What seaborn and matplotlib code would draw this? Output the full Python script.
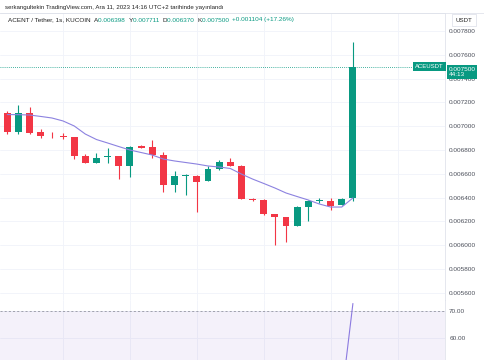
import numpy as np
import pandas as pd
import matplotlib
matplotlib.use('Agg')
import matplotlib.pyplot as plt
import matplotlib.transforms as mtransforms
import seaborn as sns

# OHLC (1s candles, ACE/USDT)
opens = [0.007113, 0.006949, 0.007108, 0.006949, 0.006926, 0.006917, 0.006912, 0.006750,
         0.006693, 0.006739, 0.006747, 0.006663, 0.006834, 0.006823, 0.006761, 0.006506,
         0.006585, 0.006582, 0.006540, 0.006638, 0.006702, 0.006666, 0.006386, 0.006380,
         0.006262, 0.006240, 0.006164, 0.006324, 0.006372, 0.006369, 0.006338, 0.006398]
highs = [0.007130, 0.007178, 0.007159, 0.006976, 0.006949, 0.006940, 0.006912, 0.006764,
         0.006777, 0.006814, 0.006750, 0.006836, 0.006842, 0.006884, 0.006783, 0.006624,
         0.006596, 0.006587, 0.006666, 0.006713, 0.006730, 0.006676, 0.006394, 0.006386,
         0.006262, 0.006240, 0.006330, 0.006380, 0.006394, 0.006394, 0.006394, 0.007711]
lows = [0.006932, 0.006932, 0.006934, 0.006898, 0.006898, 0.006892, 0.006722, 0.006690,
        0.006690, 0.006693, 0.006559, 0.006571, 0.006819, 0.006730, 0.006450, 0.006450,
        0.006422, 0.006282, 0.006540, 0.006630, 0.006663, 0.006386, 0.006374, 0.006255,
        0.005999, 0.006027, 0.006164, 0.006206, 0.006352, 0.006296, 0.006338, 0.006370]
closes = [0.006949, 0.007113, 0.006945, 0.006920, 0.006922, 0.006913, 0.006752, 0.006693,
          0.006735, 0.006742, 0.006663, 0.006828, 0.006819, 0.006758, 0.006506, 0.006579,
          0.006589, 0.006534, 0.006638, 0.006697, 0.006663, 0.006386, 0.006384, 0.006262,
          0.006240, 0.006161, 0.006321, 0.006374, 0.006376, 0.006332, 0.006386, 0.007500]
ma = [0.007098, 0.007097, 0.007094, 0.007082, 0.007069, 0.007044, 0.007002, 0.006934,
      0.006888, 0.006859, 0.006829, 0.006800, 0.006779, 0.006758, 0.006724, 0.006708,
      0.006695, 0.006682, 0.006666, 0.006657, 0.006645, 0.006598, 0.006556, 0.006519,
      0.006481, 0.006439, 0.006409, 0.006380, 0.006346, 0.006321, 0.006321, 0.006397]
rsi = [45.0, 48.0, 44.0, 42.0, 42.5, 42.0, 34.0, 31.0, 34.5, 35.0, 31.0, 42.0,
       41.5, 38.0, 29.0, 33.5, 34.0, 32.0, 38.0, 41.0, 38.5, 30.0, 30.0, 27.0,
       26.5, 25.0, 33.0, 36.0, 36.0, 34.5, 38.5, 72.8]
price_ticks = [0.0056, 0.0058, 0.0060, 0.0062, 0.0064, 0.0066, 0.0068,
               0.0070, 0.0072, 0.0074, 0.0076, 0.0078]
rsi_ticks = [60, 70]

df = pd.DataFrame({'i': np.arange(len(opens)), 'open': opens, 'high': highs,
                   'low': lows, 'close': closes, 'ma': ma, 'rsi': rsi})

GREEN = '#089981'
RED = '#F23645'
GRID = '#f0f3fa'
EDGE = '#e0e3eb'
TXT = '#4a4e59'

sns.set_style('white')
plt.rcParams['font.family'] = ['Liberation Sans', 'DejaVu Sans']

W, H = 485, 360
fig = plt.figure(figsize=(W / 100, H / 100), dpi=100)

ax = fig.add_axes([0, 60 / H, 445 / W, 287 / H])
ax2 = fig.add_axes([0, 0, 445 / W, 60 / H])

# candles
df['up'] = df['close'] >= df['open']
cols = np.where(df['up'], GREEN, RED)
ax.vlines(df['i'], df['low'], df['high'], colors=cols, lw=0.8, zorder=3)
body = (df['close'] - df['open']).abs().clip(lower=0.000008)
ax.bar(df['i'], body, bottom=df[['open', 'close']].min(axis=1), width=0.62,
       color=cols, zorder=4, linewidth=0)
sns.lineplot(data=df, x='i', y='ma', ax=ax, color='#8c82e0', lw=0.8, zorder=5)

ax.set_xlim(-0.655, 39.26)
ax.set_ylim(0.005540, 0.007951)
ax.set_xticks([5, 11, 17, 23, 29, 35])
ax.set_xticklabels([])
ax.set_yticks(price_ticks)
ax.set_yticklabels(['%.6f' % t for t in price_ticks])
ax.yaxis.tick_right()
ax.tick_params(axis='both', length=0, labelsize=4.6, labelcolor=TXT, pad=3)
ax.grid(True, color=GRID, lw=0.6)
ax.set_xlabel('')
ax.set_ylabel('')
ax.spines['left'].set_visible(False)
for s in ['top', 'right', 'bottom']:
    ax.spines[s].set_color(EDGE)
    ax.spines[s].set_linewidth(0.6)

# last price line and labels
last = closes[-1]
ax.axhline(last, color=GREEN, lw=0.6, ls=(0, (1, 1.5)), zorder=2)
tr = mtransforms.blended_transform_factory(ax.transAxes, ax.transData)
ax.text(0.997, last, 'ACEUSDT', transform=tr, ha='right', va='center', fontsize=4.3,
        color='white', bbox=dict(boxstyle='square,pad=0.35', fc=GREEN, ec='none'),
        zorder=6, clip_on=False)
ax.text(1.008, last, '0.007500\n44:13', transform=tr, ha='left', va='top', fontsize=4.6,
        color='white', linespacing=1.1,
        bbox=dict(boxstyle='square,pad=0.3', fc=GREEN, ec='none'),
        zorder=6, clip_on=False)

# RSI pane
ax2.axhspan(30, 70, color='#7E57C2', alpha=0.08, lw=0)
ax2.axhline(70, color='#9598a1', lw=0.6, ls=(0, (2.5, 2.5)))
sns.lineplot(data=df, x='i', y='rsi', ax=ax2, color='#8c7ae0', lw=0.8)
ax2.set_xlim(-0.655, 39.26)
ax2.set_ylim(51.9, 74.1)
ax2.set_xticks([5, 11, 17, 23, 29, 35])
ax2.set_xticklabels([])
ax2.set_yticks(rsi_ticks)
ax2.set_yticklabels(['%.2f' % t for t in rsi_ticks])
ax2.yaxis.tick_right()
ax2.tick_params(axis='both', length=0, labelsize=4.6, labelcolor=TXT, pad=3)
ax2.grid(True, color=GRID, lw=0.6)
ax2.set_xlabel('')
ax2.set_ylabel('')
for s in ['left', 'bottom', 'top']:
    ax2.spines[s].set_visible(False)
ax2.spines['right'].set_color(EDGE)
ax2.spines['right'].set_linewidth(0.6)

# header
fig.text(5 / W, 1 - 7 / H, 'serkangultekin TradingView.com, Ara 11, 2023 14:16 UTC+2 tarihinde yayınlandı',
         fontsize=4.4, color='#222', va='center', ha='left')
fig.add_artist(plt.Line2D([0, 1], [1 - 13 / H] * 2, color=EDGE, lw=0.6))

pieces = [('ACENT / Tether, 1s, KUCOIN  ', '#222'), ('A', '#222'), ('0.006398  ', GREEN),
          ('Y', '#222'), ('0.007711  ', GREEN), ('D', '#222'), ('0.006370  ', GREEN),
          ('K', '#222'), ('0.007500  ', GREEN), ('+0.001104 (+17.26%)', GREEN)]
renderer = fig.canvas.get_renderer()
x = 8
for s, c in pieces:
    t = fig.text(x / W, 1 - 20 / H, s, fontsize=4.6, color=c, va='center', ha='left')
    x += t.get_window_extent(renderer).width

fig.text(464 / W, 1 - 20 / H, 'USDT', fontsize=4.4, color='#222', va='center', ha='center',
         bbox=dict(boxstyle='square,pad=0.6', fc='white', ec=EDGE, lw=0.6))

fig.savefig('out.png', dpi=100)
